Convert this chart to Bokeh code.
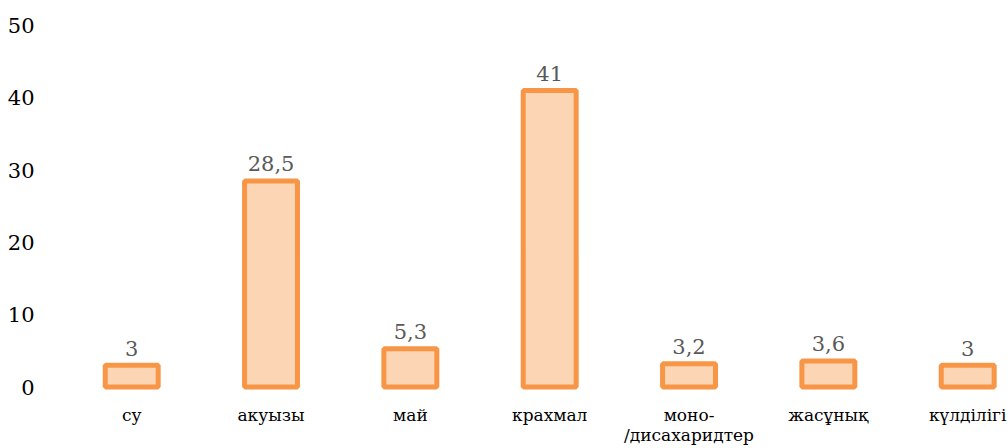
from bokeh.plotting import figure
from bokeh.models import Range1d, FixedTicker, ColumnDataSource
from bokeh.embed import file_html
from bokeh.resources import INLINE
from bokeh.core.properties import value

categories = ["су", "акуызы", "май", "крахмал", "моно-\n/дисахаридтер", "жасұнық", "күлділігі"]
values = [3, 28.5, 5.3, 41, 3.2, 3.6, 3]
y_ticks = [0, 10, 20, 30, 40, 50]


def fmt(v):
    return str(int(v)) if float(v).is_integer() else str(v).replace(".", ",")


src = ColumnDataSource(dict(
    x=list(range(len(categories))),
    top=values,
    cat=categories,
    lab=[fmt(v) for v in values],
    zero=[0] * len(values),
))

FONT = "DejaVu Serif"

p = figure(width=1008, height=448, output_backend="svg", toolbar_location=None,
           x_range=Range1d(-0.5254, 6.2929), y_range=Range1d(-8.506, 50))
p.min_border_left = 58
p.min_border_right = 0
p.min_border_top = 25
p.min_border_bottom = 0
p.outline_line_color = None
p.grid.visible = False
p.xaxis.visible = False
p.background_fill_color = "white"
p.border_fill_color = "white"

ya = p.yaxis[0]
ya.ticker = FixedTicker(ticks=y_ticks)
ya.axis_line_color = None
ya.major_tick_line_color = None
ya.minor_tick_line_color = None
ya.major_label_standoff = 18
ya.major_label_text_font = FONT
ya.major_label_text_font_size = "21px"
ya.major_label_text_color = "#000000"

p.vbar(x="x", top="top", bottom=0, width=0.38, source=src,
       fill_color="#FCD5B5", line_color="#F79646", line_width=5)

p.text(x="x", y="top", text="lab", source=src, text_align="center",
       text_baseline="alphabetic", y_offset=-17, text_font=value(FONT),
       text_font_size="21px", text_color="#595959")

p.text(x="x", y="zero", text="cat", source=src, text_align="center",
       text_baseline="top", y_offset=18, text_font=value(FONT),
       text_font_size="17px", text_color="#000000", text_line_height=1.0)

open("out.html", "w").write(file_html(p, INLINE))
